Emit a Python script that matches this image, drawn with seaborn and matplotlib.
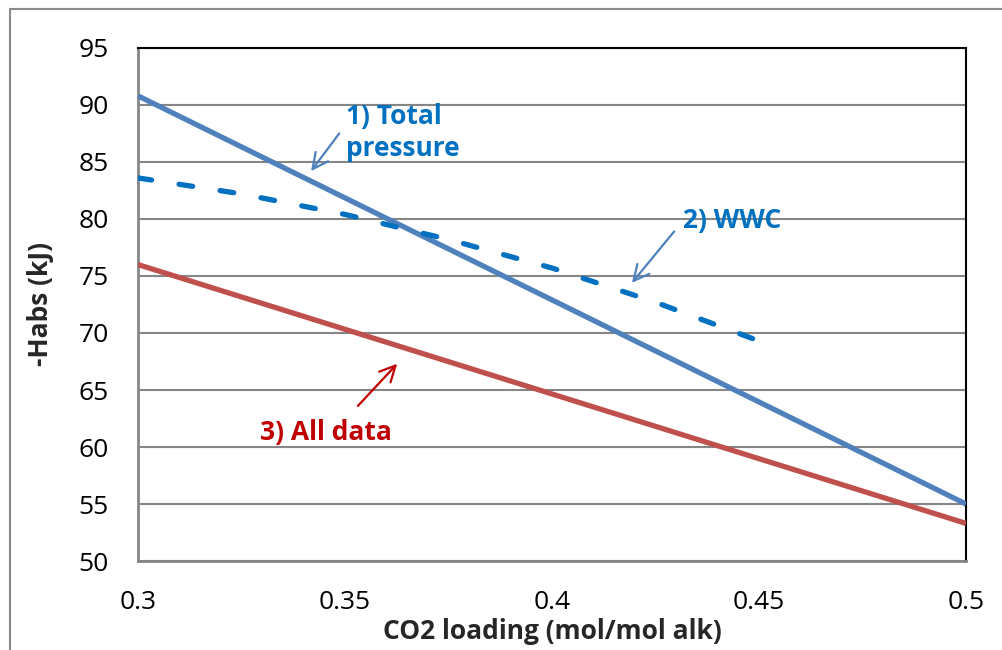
import matplotlib
matplotlib.use("Agg")
import matplotlib.pyplot as plt
from matplotlib.lines import Line2D
import seaborn as sns
import pandas as pd

# Absorption enthalpy vs. CO2 loading, three regression fits
loading_total = [0.3, 0.5]
habs_total = [90.8, 55.0]
loading_wwc = [0.3, 0.325, 0.35, 0.375, 0.4, 0.425, 0.45]
habs_wwc = [83.6, 82.2, 80.4, 78.2, 75.7, 72.7, 69.3]
loading_all = [0.3, 0.5]
habs_all = [76.0, 53.3]

x_ticks = [0.3, 0.35, 0.4, 0.45, 0.5]
x_tick_labels = ["0.3", "0.35", "0.4", "0.45", "0.5"]
y_ticks = [50, 55, 60, 65, 70, 75, 80, 85, 90, 95]

label_total = "1) Total\npressure"
label_wwc = "2) WWC"
label_all = "3) All data"
x_label = "CO2 loading (mol/mol alk)"
y_label = "-Habs (kJ)"

sns.set_theme(style="white")
plt.rcParams["font.family"] = ["Open Sans", "DejaVu Sans"]

BLUE = "#4F81BD"
RED = "#C0504D"
DARK_BLUE = "#0070C0"
DARK_RED = "#C00000"
GRAY = "#868686"
FS = 19

fig = plt.figure(figsize=(10.03, 6.5), dpi=100)
ax = fig.add_axes([0.1376, 0.1369, 0.8255, 0.7893])

df_total = pd.DataFrame({"x": loading_total, "y": habs_total})
df_wwc = pd.DataFrame({"x": loading_wwc, "y": habs_wwc})
df_all = pd.DataFrame({"x": loading_all, "y": habs_all})

sns.lineplot(data=df_total, x="x", y="y", ax=ax, color=BLUE, linewidth=3.8,
             solid_capstyle="butt", zorder=4)
sns.lineplot(data=df_all, x="x", y="y", ax=ax, color=RED, linewidth=3.8,
             solid_capstyle="butt", zorder=4)
sns.lineplot(data=df_wwc, x="x", y="y", ax=ax, color=DARK_BLUE, linewidth=3.8,
             zorder=4)
wwc_line = ax.lines[-1]
wwc_line.set_dashes((2.6, 5.27))
wwc_line.set_dash_capstyle("round")

ax.set_xlim(0.3, 0.5)
ax.set_ylim(50, 95)
ax.set_xticks(x_ticks)
ax.set_xticklabels(x_tick_labels)
ax.set_yticks(y_ticks)

ax.yaxis.grid(True, color=GRAY, linewidth=1.5)
ax.xaxis.grid(False)
ax.set_axisbelow(True)

for side in ("left", "bottom"):
    ax.spines[side].set_color(GRAY)
    ax.spines[side].set_linewidth(2.0)
for side in ("top", "right"):
    ax.spines[side].set_color("black")
    ax.spines[side].set_linewidth(1.5)

ax.tick_params(axis="both", which="major", direction="in", length=7,
               width=1.5, color=GRAY, labelsize=FS, labelcolor="black")
ax.tick_params(axis="y", pad=21)
ax.tick_params(axis="x", pad=21)

ax.set_xlabel(x_label, fontsize=FS, fontweight="bold", labelpad=2)
ax.set_ylabel(y_label, fontsize=FS, fontweight="bold", labelpad=18)

# Callout labels with arrows
arrow_kw = dict(lw=1.6, mutation_scale=28, shrinkA=0, shrinkB=0)
ax.annotate("", xy=(0.3418, 84.2), xytext=(0.3486, 87.5),
            arrowprops=dict(arrowstyle="->", color=BLUE, **arrow_kw))
ax.text(0.3502, 87.6, label_total, color=DARK_BLUE, fontsize=FS,
        fontweight="bold", ha="left", va="center", linespacing=1.25)

ax.annotate("", xy=(0.4193, 74.4), xytext=(0.4295, 78.9),
            arrowprops=dict(arrowstyle="->", color=BLUE, **arrow_kw))
ax.text(0.4316, 79.9, label_wwc, color=DARK_BLUE, fontsize=FS,
        fontweight="bold", ha="left", va="center")

ax.annotate("", xy=(0.3626, 67.3), xytext=(0.3531, 63.6),
            arrowprops=dict(arrowstyle="->", color=DARK_RED, **arrow_kw))
ax.text(0.3295, 61.3, label_all, color=DARK_RED, fontsize=FS,
        fontweight="bold", ha="left", va="center")

# Chart-area frame (left and top edges)
fig.add_artist(Line2D([10 / 1003, 10 / 1003], [0, 1 - 9 / 650],
                      transform=fig.transFigure, color="#8A8A8A", lw=1.5))
fig.add_artist(Line2D([10 / 1003, 1], [1 - 9 / 650, 1 - 9 / 650],
                      transform=fig.transFigure, color="#8A8A8A", lw=1.5))

fig.savefig("out.png", dpi=100, facecolor="white")
